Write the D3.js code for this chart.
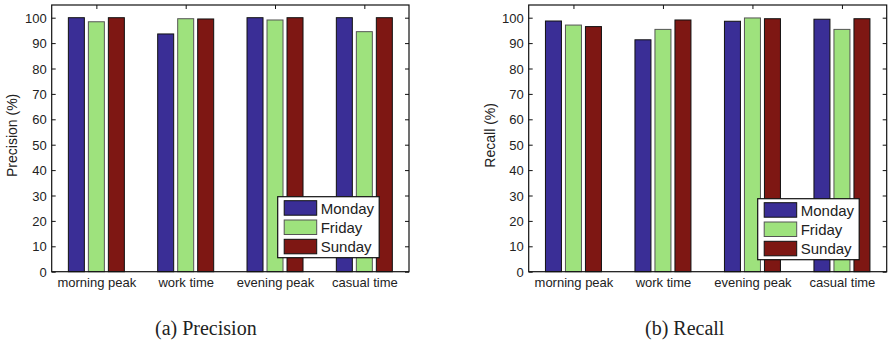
<!DOCTYPE html>
<html>
<head>
<meta charset="utf-8">
<script src="https://cdn.jsdelivr.net/npm/d3@7"></script>
<style>
  body { margin: 0; background: #fff; }
  svg text { font-family: "Liberation Sans", Arial, sans-serif; fill: #222; }
  .caption { font-family: "Liberation Serif", "DejaVu Serif", serif !important; }
</style>
</head>
<body>
<script>
var categories = ["morning peak", "work time", "evening peak", "casual time"];
var days = ["Monday", "Friday", "Sunday"];
var colors = ["#3a2e96", "#9ee27d", "#7e1713"];
var yTicks = [0, 10, 20, 30, 40, 50, 60, 70, 80, 90, 100];

// values per day, in category order
var precisionMonday = [100, 93.6, 100, 100];
var precisionFriday = [98.4, 99.6, 99.1, 94.5];
var precisionSunday = [100, 99.5, 100, 100];

var recallMonday = [98.7, 91.3, 98.6, 99.4];
var recallFriday = [97.1, 95.4, 99.9, 95.4];
var recallSunday = [96.5, 99.1, 99.6, 99.6];

var w = 890, h = 343;
var svg = d3.select("body").append("svg")
    .attr("width", w)
    .attr("height", h);

function panel(left, right, ylabel, labelX, series, caption, captionX, legendX, legendY) {
  var top = 5, bottom = 271.7;
  var x = d3.scaleLinear().domain([0.5, 4.5]).range([left, right]);
  var y = d3.scaleLinear().domain([0, 105]).range([bottom, top]);
  var g = svg.append("g");

  // bars
  var offsets = [-20, 0, 20];
  var bw = 16;
  series.forEach(function(vals, s) {
    g.selectAll(".bar" + s)
      .data(vals)
      .enter()
      .append("rect")
      .attr("x", (d, i) => x(i + 1) + offsets[s] - bw / 2)
      .attr("y", d => y(d))
      .attr("width", bw)
      .attr("height", d => y(0) - y(d))
      .attr("fill", colors[s])
      .attr("stroke", s == 1 ? "#555" : "#111")
      .attr("stroke-width", 1);
  });

  // axes box
  g.append("rect")
    .attr("x", left).attr("y", top)
    .attr("width", right - left).attr("height", bottom - top)
    .attr("fill", "none").attr("stroke", "#111").attr("stroke-width", 1.2);

  var yl = g.append("g").attr("transform", "translate(" + left + ",0)")
    .call(d3.axisLeft(y).tickValues(yTicks).tickSize(-4).tickPadding(5));
  var yr = g.append("g").attr("transform", "translate(" + right + ",0)")
    .call(d3.axisRight(y).tickValues(yTicks).tickSize(-4).tickFormat(""));
  var xb = g.append("g").attr("transform", "translate(0," + bottom + ")")
    .call(d3.axisBottom(x).tickValues([1, 2, 3, 4]).tickSize(0).tickPadding(6)
      .tickFormat((d, i) => categories[i]));
  var xt = g.append("g").attr("transform", "translate(0," + top + ")")
    .call(d3.axisTop(x).tickValues([1, 2, 3, 4]).tickSize(-4).tickFormat(""));
  [yl, yr, xb, xt].forEach(function(a) {
    a.select(".domain").remove();
    a.selectAll("line").attr("stroke", "#111");
    a.selectAll("text").style("font-size", "13px").attr("fill", "#222");
  });
  yl.selectAll("text").attr("dy", "0.36em");

  g.append("text")
    .attr("transform", "translate(" + labelX + "," + ((top + bottom) / 2 - 3) + ") rotate(-90)")
    .attr("text-anchor", "middle")
    .attr("dy", "0.35em")
    .style("font-size", "14px")
    .text(ylabel);

  // legend
  var lg = g.append("g").attr("transform", "translate(" + legendX + "," + legendY + ")");
  lg.append("rect")
    .attr("width", 101.5).attr("height", 61)
    .attr("fill", "#fff").attr("stroke", "#111").attr("stroke-width", 1.2);
  var items = lg.selectAll(".legend-item")
    .data(days)
    .enter()
    .append("g")
    .attr("class", "legend-item")
    .attr("transform", (d, i) => "translate(0," + (4 + i * 19.3) + ")");
  items.append("rect")
    .attr("x", 6.5).attr("width", 32.5).attr("height", 14.5)
    .attr("fill", (d, i) => colors[i])
    .attr("stroke", (d, i) => i == 1 ? "#555" : "#111");
  items.append("text")
    .attr("x", 43).attr("y", 7.5)
    .attr("dy", "0.36em")
    .style("font-size", "15px")
    .text(d => d);

  svg.append("text")
    .attr("class", "caption")
    .attr("x", captionX).attr("y", 335)
    .style("font-size", "20px")
    .text(caption);
}

panel(51.7, 409, "Precision (%)", 12, [precisionMonday, precisionFriday, precisionSunday],
  "(a) Precision", 155, 277.7, 196.7);
panel(528.7, 886.7, "Recall (%)", 490, [recallMonday, recallFriday, recallSunday],
  "(b) Recall", 645, 757.7, 198.7);
</script>
</body>
</html>
